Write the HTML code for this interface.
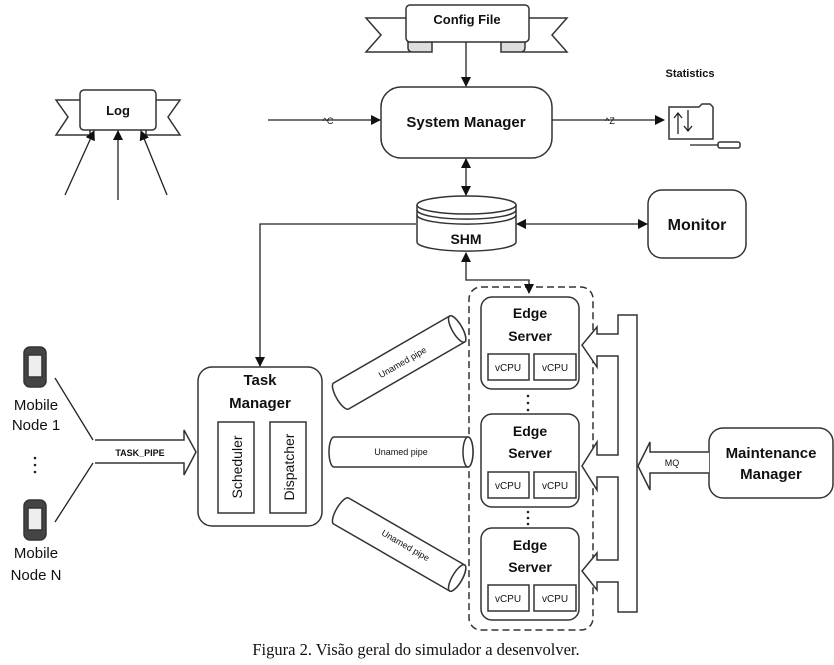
<!DOCTYPE html>
<html><head><meta charset="utf-8"><style>
html,body{margin:0;padding:0;background:#fff}
svg{display:block}
text{font-family:"Liberation Sans",sans-serif;fill:#111}
.b{font-weight:bold}
</style></head><body>
<svg width="834" height="665" viewBox="0 0 834 665" xmlns="http://www.w3.org/2000/svg">
<defs>
<marker id="ar" markerWidth="10" markerHeight="10" refX="9" refY="5" orient="auto" markerUnits="userSpaceOnUse"><path d="M0,0 L10,5 L0,10 z" fill="#111"/></marker>
<marker id="al" markerWidth="10" markerHeight="10" refX="1" refY="5" orient="auto" markerUnits="userSpaceOnUse"><path d="M10,0 L0,5 L10,10 z" fill="#111"/></marker>
</defs>
<g stroke="#333" stroke-width="1.5" fill="#fff">
<polygon points="366,18 410,18 410,52 366,52 381,35"/>
<polygon points="567,18 523,18 523,52 567,52 552,35"/>
<path d="M408,42 h24 v10 h-20 a4,4 0 0 1 -4,-4z" fill="#ddd"/>
<path d="M525,42 h-24 v10 h20 a4,4 0 0 0 4,-4z" fill="#ddd"/>
<rect x="406" y="5" width="123" height="37" rx="4"/>
<polygon points="56,100 90,100 90,135 56,135 68,117"/>
<polygon points="180,100 146,100 146,135 180,135 168,117"/>
<rect x="80" y="90" width="76" height="40" rx="4"/>
<rect x="381" y="87" width="171" height="71" rx="20"/>
<rect x="648" y="190" width="98" height="68" rx="14"/>
<rect x="709" y="428" width="124" height="70" rx="14"/>
<rect x="198" y="367" width="124" height="159" rx="14"/>
<rect x="218" y="422" width="36" height="91"/>
<rect x="270" y="422" width="36" height="91"/>
<rect x="469" y="287" width="124" height="343" rx="12" stroke-dasharray="7,4"/>
<rect x="481" y="297" width="98" height="92" rx="11"/>
<rect x="481" y="414" width="98" height="93" rx="11"/>
<rect x="481" y="528" width="98" height="92" rx="11"/>
<rect x="488" y="354" width="41" height="26"/><rect x="534" y="354" width="42" height="26"/>
<rect x="488" y="472" width="41" height="26"/><rect x="534" y="472" width="42" height="26"/>
<rect x="488" y="585" width="41" height="26"/><rect x="534" y="585" width="42" height="26"/>
<path d="M618,315 H637 V612 H618 V582 H597 V590 L582,571 L597,553 V560 H618 V477 H597 V490 L582,466 L597,442 V455 H618 V356 H597 V367 L582,345 L597,327 V334 H618 Z"/>
<path d="M709,452 H650 V442 L638,466 L650,490 V473 H709"/>
<path d="M95,440 H184 V430 L196,452 L184,475 V463 H95"/>
<path d="M417,205 V242 A49,9 0 0 0 516,242 V205"/>
<ellipse cx="466.5" cy="205" rx="49.5" ry="9"/>
<path d="M417,210 A49,9 0 0 0 516,210 M417,215 A49,9 0 0 0 516,215" fill="none"/>
<g transform="translate(402,452)">
<path d="M-68,-15 H66 A5,15 0 0 1 66,15 H-68 A5,15 0 0 1 -68,-15z"/><ellipse cx="66" cy="0" rx="5" ry="15"/></g>
<g transform="translate(400,362) rotate(-30)">
<path d="M-68,-15 H66 A5,15 0 0 1 66,15 H-68 A5,15 0 0 1 -68,-15z"/><ellipse cx="66" cy="0" rx="5" ry="15"/></g>
<g transform="translate(400,545) rotate(30)">
<path d="M-68,-15 H66 A5,15 0 0 1 66,15 H-68 A5,15 0 0 1 -68,-15z"/><ellipse cx="66" cy="0" rx="5" ry="15"/></g>
<path d="M669,107 h30 l3,-3 h8 l3,3 v32 h-44z"/>
<rect x="718" y="142" width="22" height="6" rx="2"/>
<rect x="24" y="347" width="22" height="40" rx="6" fill="#444"/>
<rect x="28" y="355" width="14" height="22" fill="#eee"/>
<rect x="24" y="500" width="22" height="40" rx="6" fill="#444"/>
<rect x="28" y="508" width="14" height="22" fill="#eee"/>
</g>
<g stroke="#222" stroke-width="1.3" fill="none">
<line x1="466" y1="42" x2="466" y2="86" marker-end="url(#ar)"/>
<line x1="268" y1="120" x2="380" y2="120" marker-end="url(#ar)"/>
<line x1="552" y1="120" x2="664" y2="120" marker-end="url(#ar)"/>
<line x1="690" y1="145" x2="718" y2="145"/>
<line x1="466" y1="159" x2="466" y2="195" marker-start="url(#al)" marker-end="url(#ar)"/>
<line x1="517" y1="224" x2="647" y2="224" marker-start="url(#al)" marker-end="url(#ar)"/>
<polyline points="416,224 260,224 260,366" marker-end="url(#ar)"/>
<polyline points="466,253 466,280 529,280 529,293" marker-start="url(#al)" marker-end="url(#ar)"/>
<line x1="65" y1="195" x2="94" y2="131" marker-end="url(#ar)"/>
<line x1="118" y1="200" x2="118" y2="131" marker-end="url(#ar)"/>
<line x1="167" y1="195" x2="141" y2="131" marker-end="url(#ar)"/>
<line x1="55" y1="378" x2="93" y2="440"/>
<line x1="55" y1="522" x2="93" y2="463"/>
<path d="M678,114 v20 M674,118 l4,-5 l4,5 M688,110 v20 M684,126 l4,5 l4,-5"/>
</g>
<g fill="#222">
<circle cx="35" cy="458" r="1.3"/><circle cx="35" cy="465" r="1.3"/><circle cx="35" cy="472" r="1.3"/>
<circle cx="528" cy="396" r="1.3"/><circle cx="528" cy="403" r="1.3"/><circle cx="528" cy="410" r="1.3"/>
<circle cx="528" cy="512" r="1.3"/><circle cx="528" cy="518" r="1.3"/><circle cx="528" cy="524" r="1.3"/>
</g>
<text x="467" y="24" font-size="13" class="b" text-anchor="middle">Config File</text>
<text x="118" y="115" font-size="13" class="b" text-anchor="middle">Log</text>
<text x="466" y="127" font-size="15" class="b" text-anchor="middle">System Manager</text>
<text x="328" y="124" font-size="9" text-anchor="middle">^C</text>
<text x="610" y="124" font-size="9" text-anchor="middle">^Z</text>
<text x="690" y="77" font-size="11" class="b" text-anchor="middle">Statistics</text>
<text x="466" y="244" font-size="14" class="b" text-anchor="middle">SHM</text>
<text x="697" y="230" font-size="16" class="b" text-anchor="middle">Monitor</text>
<text x="260" y="385" font-size="15" class="b" text-anchor="middle">Task</text>
<text x="260" y="408" font-size="15" class="b" text-anchor="middle">Manager</text>
<text transform="translate(242,467) rotate(-90)" font-size="14" text-anchor="middle">Scheduler</text>
<text transform="translate(294,467) rotate(-90)" font-size="14" text-anchor="middle">Dispatcher</text>
<text x="140" y="456" font-size="9" class="b" text-anchor="middle">TASK_PIPE</text>
<text x="401" y="455" font-size="9" text-anchor="middle">Unamed pipe</text>
<text transform="translate(404,365) rotate(-30)" font-size="9" text-anchor="middle">Unamed pipe</text>
<text transform="translate(404,548) rotate(30)" font-size="9" text-anchor="middle">Unamed pipe</text>
<g font-size="14" class="b" text-anchor="middle">
<text x="530" y="318">Edge</text><text x="530" y="341">Server</text>
<text x="530" y="436">Edge</text><text x="530" y="458">Server</text>
<text x="530" y="550">Edge</text><text x="530" y="572">Server</text>
</g>
<g font-size="10" text-anchor="middle">
<text x="508" y="371">vCPU</text><text x="555" y="371">vCPU</text>
<text x="508" y="489">vCPU</text><text x="555" y="489">vCPU</text>
<text x="508" y="602">vCPU</text><text x="555" y="602">vCPU</text>
</g>
<text x="672" y="466" font-size="9" text-anchor="middle">MQ</text>
<text x="771" y="458" font-size="15" class="b" text-anchor="middle">Maintenance</text>
<text x="771" y="479" font-size="15" class="b" text-anchor="middle">Manager</text>
<g font-size="15" text-anchor="middle">
<text x="36" y="410">Mobile</text><text x="36" y="430">Node 1</text>
<text x="36" y="558">Mobile</text><text x="36" y="580">Node N</text>
</g>
<text x="416" y="655" font-size="16.5" text-anchor="middle" style="font-family:'Liberation Serif',serif">Figura 2. Visão geral do simulador a desenvolver.</text>
</svg>
</body></html>
